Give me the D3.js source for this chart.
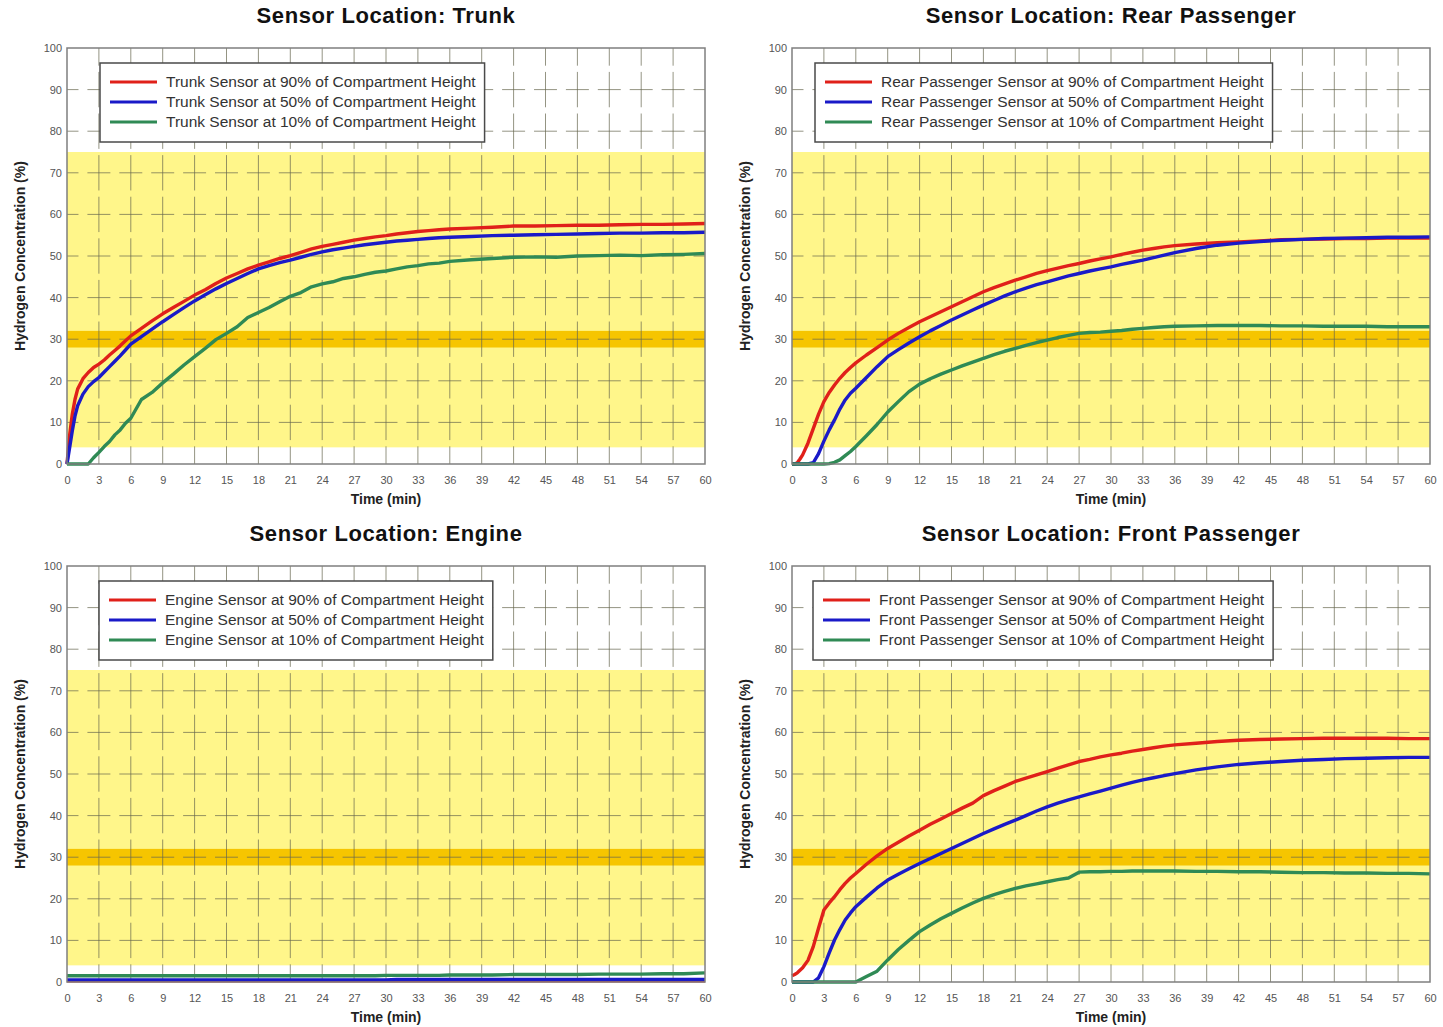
<!DOCTYPE html>
<html>
<head>
<meta charset="utf-8">
<script src="https://cdn.jsdelivr.net/npm/d3@7"></script>
<style>
body { margin: 0; background: #fff; }
svg { display: block; font-family: "Liberation Sans", Arial, sans-serif; }
</style>
</head>
<body>
<svg id="chart" width="1443" height="1027"></svg>
<script>
// time samples (min), shared by every sensor trace
var minutes = [0, 0.25, 0.5, 0.75, 1, 1.5, 2, 2.5, 3, 3.5, 4, 4.5, 5, 5.5, 6,
	7, 8, 9, 10, 11, 12, 13, 14, 15, 16, 17, 18, 19, 20, 21,
	22, 23, 24, 25, 26, 27, 28, 29, 30, 31, 32, 33, 34, 35, 36,
	38, 40, 42, 44, 46, 48, 50, 52, 54, 56, 58, 60];

var trunk90 = [0, 7, 12, 15.5, 18, 20.5, 22, 23.2, 24, 25, 26.2, 27.3, 28.4, 29.6, 30.8,
	32.6, 34.4, 36.1, 37.6, 39.1, 40.6, 41.9, 43.4, 44.7, 45.8, 46.9, 47.8, 48.6, 49.4, 50.1,
	50.9, 51.7, 52.3, 52.8, 53.3, 53.8, 54.2, 54.6, 54.9, 55.3, 55.6, 55.9, 56.1, 56.3, 56.5,
	56.7, 56.9, 57.2, 57.2, 57.3, 57.4, 57.4, 57.5, 57.6, 57.6, 57.7, 57.8];
var trunk50 = [0, 4, 8, 11.5, 14, 16.8, 18.6, 19.8, 20.8, 22.1, 23.4, 24.7, 26, 27.4, 28.8,
	30.6, 32.4, 34.2, 35.9, 37.6, 39.2, 40.7, 42.1, 43.4, 44.6, 45.8, 46.9, 47.7, 48.4, 49,
	49.7, 50.4, 51, 51.5, 51.9, 52.3, 52.7, 53, 53.3, 53.6, 53.8, 54, 54.2, 54.4, 54.5,
	54.7, 54.9, 55, 55.1, 55.2, 55.3, 55.4, 55.5, 55.5, 55.6, 55.6, 55.7];
var trunk10 = [0, 0, 0, 0, 0, 0, 0, 1.5, 2.8, 4.2, 5.4, 7, 8.2, 9.8, 11,
	15.5, 17.2, 19.5, 21.6, 23.8, 25.8, 27.8, 29.9, 31.4, 33, 35.2, 36.4, 37.6, 39, 40.3,
	41.2, 42.6, 43.3, 43.8, 44.6, 45, 45.6, 46.1, 46.4, 46.9, 47.4, 47.7, 48.1, 48.3, 48.7,
	49.1, 49.4, 49.7, 49.8, 49.7, 50, 50.1, 50.2, 50.1, 50.3, 50.4, 50.6];

var rear90 = [0, 0, 0.3, 1.2, 2.2, 5, 8.5, 12, 15, 17.2, 19, 20.6, 22, 23.2, 24.3,
	26.2, 28, 29.8, 31.4, 32.8, 34.2, 35.4, 36.6, 37.8, 39, 40.2, 41.4, 42.4, 43.3, 44.2,
	45, 45.8, 46.5, 47.1, 47.7, 48.2, 48.8, 49.3, 49.8, 50.4, 50.9, 51.4, 51.8, 52.2, 52.5,
	52.9, 53.2, 53.4, 53.6, 53.9, 54, 54.1, 54.2, 54.2, 54.3, 54.3, 54.3];
var rear50 = [0, 0, 0, 0, 0, 0, 0.3, 2.5, 5.5, 8.2, 10.6, 13.2, 15.4, 17, 18.2,
	20.8, 23.4, 25.8, 27.5, 29.1, 30.6, 32, 33.3, 34.6, 35.8, 37, 38.2, 39.3, 40.4, 41.4,
	42.3, 43.1, 43.8, 44.5, 45.2, 45.8, 46.4, 46.9, 47.4, 48, 48.5, 49, 49.6, 50.2, 50.8,
	51.8, 52.6, 53.1, 53.5, 53.8, 54, 54.2, 54.3, 54.4, 54.5, 54.5, 54.6];
var rear10 = [0, 0, 0, 0, 0, 0, 0, 0, 0, 0.1, 0.4, 1, 2, 3, 4.2,
	6.8, 9.5, 12.5, 15, 17.4, 19.2, 20.5, 21.6, 22.6, 23.6, 24.5, 25.4, 26.3, 27.1, 27.8,
	28.5, 29.2, 29.8, 30.4, 30.9, 31.4, 31.6, 31.7, 31.9, 32.1, 32.4, 32.6, 32.8, 33, 33.1,
	33.2, 33.3, 33.3, 33.3, 33.2, 33.2, 33.1, 33.1, 33.1, 33, 33, 33];

var engine90 = [0.3, 0.3, 0.3, 0.3, 0.3, 0.3, 0.3, 0.3, 0.3, 0.3, 0.3, 0.3, 0.3, 0.3, 0.3,
	0.3, 0.3, 0.3, 0.3, 0.3, 0.3, 0.3, 0.3, 0.3, 0.3, 0.3, 0.3, 0.3, 0.3, 0.3,
	0.3, 0.3, 0.3, 0.3, 0.3, 0.3, 0.3, 0.3, 0.3, 0.3, 0.3, 0.3, 0.3, 0.3, 0.3,
	0.3, 0.3, 0.3, 0.3, 0.3, 0.3, 0.3, 0.3, 0.3, 0.3, 0.3, 0.3];
var engine50 = [0.5, 0.5, 0.5, 0.5, 0.5, 0.5, 0.5, 0.5, 0.5, 0.5, 0.5, 0.5, 0.5, 0.5, 0.5,
	0.5, 0.5, 0.5, 0.5, 0.5, 0.5, 0.5, 0.5, 0.5, 0.5, 0.5, 0.5, 0.5, 0.5, 0.5,
	0.5, 0.5, 0.5, 0.5, 0.5, 0.5, 0.5, 0.5, 0.5, 0.6, 0.6, 0.6, 0.6, 0.6, 0.6,
	0.6, 0.6, 0.6, 0.6, 0.6, 0.6, 0.6, 0.6, 0.6, 0.6, 0.6, 0.6];
var engine10 = [1.5, 1.5, 1.5, 1.5, 1.5, 1.5, 1.5, 1.5, 1.5, 1.5, 1.5, 1.5, 1.5, 1.5, 1.5,
	1.5, 1.5, 1.5, 1.5, 1.5, 1.5, 1.5, 1.5, 1.5, 1.5, 1.5, 1.5, 1.5, 1.5, 1.5,
	1.5, 1.5, 1.5, 1.5, 1.5, 1.5, 1.5, 1.5, 1.6, 1.6, 1.6, 1.6, 1.6, 1.6, 1.7,
	1.7, 1.7, 1.8, 1.8, 1.8, 1.8, 1.9, 1.9, 1.9, 2, 2, 2.2];

var front90 = [1.5, 1.8, 2.2, 2.8, 3.4, 5.2, 8.5, 13, 17.3, 19, 20.5, 22.2, 23.7, 25, 26.1,
	28.3, 30.3, 32.1, 33.6, 35.1, 36.5, 37.9, 39.2, 40.5, 41.8, 43, 44.8, 46, 47.1, 48.2,
	49, 49.8, 50.6, 51.4, 52.2, 53, 53.5, 54.1, 54.6, 55, 55.5, 55.9, 56.3, 56.7, 57,
	57.4, 57.8, 58.1, 58.3, 58.4, 58.5, 58.6, 58.6, 58.6, 58.6, 58.5, 58.5];
var front50 = [0, 0, 0, 0, 0, 0, 0, 1, 3.7, 7, 10.1, 12.6, 14.9, 16.6, 18.1,
	20.4, 22.6, 24.5, 25.9, 27.2, 28.5, 29.7, 30.9, 32.1, 33.3, 34.5, 35.7, 36.8, 37.9, 38.9,
	40, 41.1, 42.1, 43, 43.8, 44.5, 45.2, 45.9, 46.6, 47.3, 48, 48.6, 49.1, 49.6, 50.1,
	51, 51.7, 52.3, 52.7, 53, 53.3, 53.5, 53.7, 53.8, 53.9, 54, 54];
var front10 = [0, 0, 0, 0, 0, 0, 0, 0, 0, 0, 0, 0, 0, 0, 0,
	1.3, 2.6, 5.3, 7.8, 10, 12.1, 13.7, 15.2, 16.5, 17.8, 19, 20.1, 21, 21.8, 22.5,
	23.1, 23.6, 24.1, 24.6, 25, 26.4, 26.5, 26.5, 26.6, 26.6, 26.7, 26.7, 26.7, 26.7, 26.7,
	26.6, 26.6, 26.5, 26.5, 26.4, 26.3, 26.3, 26.2, 26.2, 26.1, 26.1, 26];

var xTicks = d3.range(0, 61, 3);
var yTicks = d3.range(0, 101, 10);
var heights = ["90%", "50%", "10%"];
var colors = ["#e0201a", "#1a1ac8", "#2f8a55"];

var panels = [
	{ name: "Trunk", series: [trunk90, trunk50, trunk10], left: 67, top: 48, legendX: 33 },
	{ name: "Rear Passenger", series: [rear90, rear50, rear10], left: 792, top: 48, legendX: 23 },
	{ name: "Engine", series: [engine90, engine50, engine10], left: 67, top: 566, legendX: 32 },
	{ name: "Front Passenger", series: [front90, front50, front10], left: 792, top: 566, legendX: 21 }
];

var svg = d3.select("#chart");
panels.forEach(function(p) { panel(p, 638, 416); });

function panel(p, width, height) {
	var g = svg.append("g").attr("transform", "translate(" + p.left + "," + p.top + ")");

	var x = d3.scaleLinear().domain([0, 60]).range([0, width]);
	var y = d3.scaleLinear().domain([0, 100]).range([height, 0]);

	// hazard bands
	g.append("rect")
		.attr("x", 0).attr("width", width)
		.attr("y", y(75)).attr("height", y(4) - y(75))
		.attr("fill", "#fff68a");
	g.append("rect")
		.attr("x", 0).attr("width", width)
		.attr("y", y(32)).attr("height", y(28) - y(32))
		.attr("fill", "#f6c500");

	// dashed grid, dashes centred on the crossings
	var dx = x(3) - x(0), dy = y(0) - y(10);
	g.append("g").selectAll("line")
		.data(yTicks.slice(1, -1))
		.join("line")
		.attr("x1", 0).attr("x2", width)
		.attr("y1", function(d) { return y(d); })
		.attr("y2", function(d) { return y(d); })
		.attr("stroke", "#66664f").attr("stroke-opacity", 0.7)
		.attr("stroke-dasharray", (dx * 0.72) + "," + (dx * 0.28))
		.attr("stroke-dashoffset", dx * 0.36);
	g.append("g").selectAll("line")
		.data(xTicks.slice(1, -1))
		.join("line")
		.attr("y1", height).attr("y2", 0)
		.attr("x1", function(d) { return x(d); })
		.attr("x2", function(d) { return x(d); })
		.attr("stroke", "#66664f").attr("stroke-opacity", 0.7)
		.attr("stroke-dasharray", (dy * 0.85) + "," + (dy * 0.15))
		.attr("stroke-dashoffset", dy * 0.425);

	// traces
	var line = d3.line()
		.x(function(d, i) { return x(minutes[i]); })
		.y(function(d) { return y(d); });
	p.series.forEach(function(s, i) {
		g.append("path")
			.datum(s)
			.attr("d", line)
			.attr("fill", "none")
			.attr("stroke", colors[i])
			.attr("stroke-width", 3.4)
			.attr("stroke-linejoin", "round");
	});

	// frame
	g.append("rect")
		.attr("width", width).attr("height", height)
		.attr("fill", "none").attr("stroke", "#7f7f7f").attr("stroke-width", 1.5);

	// axes
	var ax = g.append("g")
		.attr("transform", "translate(0," + height + ")")
		.call(d3.axisBottom(x).tickValues(xTicks).tickSize(0).tickPadding(12));
	var ay = g.append("g")
		.call(d3.axisLeft(y).tickValues(yTicks).tickSize(0).tickPadding(5));
	[ax, ay].forEach(function(a) {
		a.select(".domain").remove();
		a.selectAll("text")
			.attr("fill", "#555")
			.style("font-size", "11px")
			.style("font-family", "\"Liberation Sans\", Arial, sans-serif");
	});

	g.append("text")
		.attr("x", width / 2).attr("y", height + 40)
		.attr("text-anchor", "middle")
		.attr("font-size", 14).attr("font-weight", "bold").attr("fill", "#222")
		.text("Time (min)");
	g.append("text")
		.attr("transform", "translate(-47," + (height / 2) + ") rotate(-90)")
		.attr("text-anchor", "middle").attr("dy", "0.35em")
		.attr("font-size", 14).attr("font-weight", "bold").attr("fill", "#222")
		.text("Hydrogen Concentration (%)");
	g.append("text")
		.attr("x", width / 2).attr("y", -25)
		.attr("text-anchor", "middle")
		.attr("font-size", 22).attr("font-weight", "bold").attr("fill", "#111")
		.attr("letter-spacing", 0.6)
		.text("Sensor Location: " + p.name);

	// legend
	var lg = g.append("g").attr("transform", "translate(" + p.legendX + ",15)");
	var box = lg.append("rect")
		.attr("height", 79)
		.attr("fill", "#fff").attr("stroke", "#4a4a4a").attr("stroke-width", 1.5);
	var widest = 0;
	heights.forEach(function(h, i) {
		var yy = 19 + i * 20;
		lg.append("line")
			.attr("x1", 10).attr("x2", 57)
			.attr("y1", yy).attr("y2", yy)
			.attr("stroke", colors[i]).attr("stroke-width", 3);
		var t = lg.append("text")
			.attr("x", 66).attr("y", yy).attr("dy", "0.35em")
			.attr("font-size", 15.5).attr("fill", "#333")
			.text(p.name + " Sensor at " + h + " of Compartment Height");
		widest = Math.max(widest, t.node().getComputedTextLength());
	});
	box.attr("width", 66 + widest + 9);
}
</script>
</body>
</html>
